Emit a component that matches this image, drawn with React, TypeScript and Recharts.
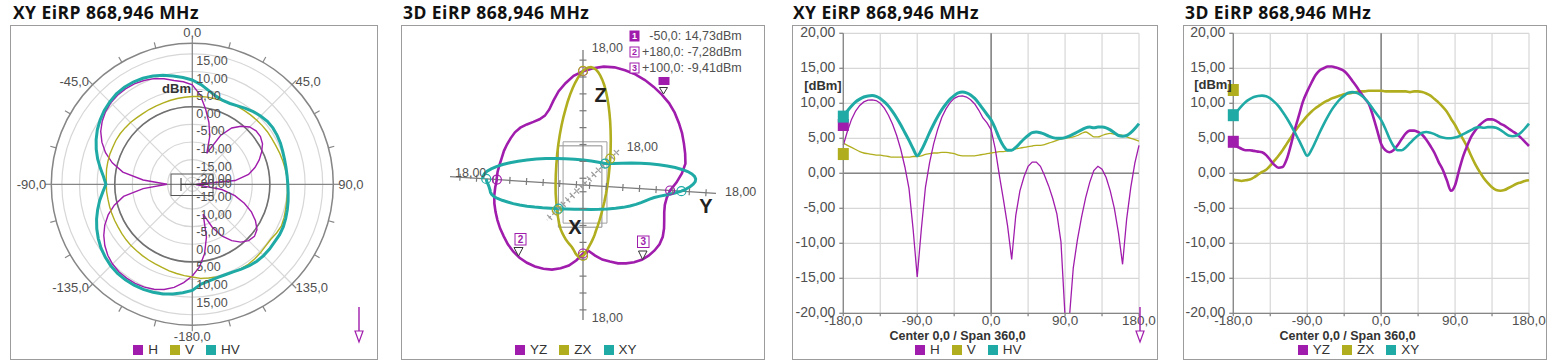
import React from "react";
import {
  CartesianGrid,
  ComposedChart,
  Line,
  LineChart,
  PolarAngleAxis,
  PolarGrid,
  PolarRadiusAxis,
  Radar,
  RadarChart,
  ReferenceArea,
  ReferenceDot,
  ReferenceLine,
  Scatter,
  XAxis,
  YAxis
} from "recharts";

// measurement angles, degrees
const angles = [
  -180, -175, -170, -165, -160, -155, -150, -145, -140, -135, -130, -125,
  -120, -115, -110, -105, -100, -95, -90, -85, -80, -75, -70, -65,
  -60, -55, -50, -45, -40, -35, -30, -25, -20, -15, -10, -5,
  0, 5, 10, 15, 20, 25, 30, 35, 40, 45, 50, 55,
  60, 65, 70, 75, 80, 85, 90, 95, 100, 105, 110, 115,
  120, 125, 130, 135, 140, 145, 150, 155, 160, 165, 170, 175, 180
];

// XY cut, dBm
const hValues = [
  4.0, 6.0, 7.7, 8.9, 9.7, 10.2, 10.45, 10.5, 10.4, 10.0, 9.3, 8.3,
  7.0, 5.4, 3.4, 0.9, -2.2, -8.0, -14.8, -8.0, -2.0, 1.5, 4.2, 6.3,
  8.0, 9.2, 10.1, 10.7, 11.0, 11.05, 10.9, 10.5, 9.9, 9.0, 7.9, 7.2,
  6.2, 3.5, -0.3, -3.8, -7.5, -12.3, -6.0, -2.5, -0.5, 1.0, 1.6, 1.6,
  1.0, -0.3, -1.8, -3.6, -5.8, -9.8, -20.5, -21.0, -13.5, -9.5, -6.3, -3.5,
  -1.3, 0.4, 1.0, 0.6, -0.6, -2.5, -5.0, -8.5, -13.0, -6.5, -2.0, 1.5, 4.0
];
const vValues = [
  4.3, 4.0, 3.7, 3.4, 3.1, 2.9, 2.8, 2.7, 2.6, 2.6, 2.5, 2.4,
  2.3, 2.3, 2.3, 2.3, 2.3, 2.4, 2.4, 2.5, 2.7, 2.8, 2.9, 2.9,
  3.0, 3.0, 2.9, 2.8, 2.6, 2.5, 2.5, 2.5, 2.5, 2.6, 2.7, 2.8,
  2.9, 3.0, 3.1, 3.1, 3.2, 3.3, 3.5, 3.6, 3.7, 3.8, 3.9, 4.0,
  4.0, 4.1, 4.3, 4.5, 4.7, 4.9, 5.0, 5.1, 5.2, 5.4, 5.7, 5.9,
  5.6, 5.2, 5.2, 5.4, 5.6, 5.7, 5.6, 5.5, 5.4, 5.2, 5.0, 4.8, 4.6
];
const hvValues = [
  8.1, 8.9, 9.6, 10.2, 10.6, 10.9, 11.05, 11.1, 11.0, 10.7, 10.2, 9.6,
  8.8, 7.9, 6.9, 5.8, 4.7, 3.5, 2.5, 3.3, 4.5, 5.8, 7.0, 8.1,
  9.1, 9.9, 10.6, 11.1, 11.5, 11.6, 11.5, 11.2, 10.7, 10.0, 9.2, 8.4,
  7.6, 6.4, 5.0, 3.9, 3.3, 3.3, 3.7, 4.3, 4.9, 5.4, 5.8, 5.9,
  5.8, 5.6, 5.3, 5.1, 5.0, 5.0, 5.1, 5.3, 5.6, 5.9, 6.2, 6.5,
  6.6, 6.5, 6.6, 6.6, 6.5, 6.2, 5.8, 5.4, 5.3, 5.4, 5.8, 6.4, 7.1
];

// 3D cuts, dBm
const yzValues = [
  4.0, 3.8, 3.5, 3.3, 3.3, 3.2, 3.1, 3.0, 2.6, 1.9, 1.2, 0.8,
  0.9, 2.0, 4.0, 6.3, 8.3, 10.3, 11.7, 12.9, 14.0, 14.7, 15.0, 15.25,
  15.25, 15.1, 14.9, 14.6, 14.0, 13.2, 12.4, 11.5, 10.7, 9.9, 8.2, 6.2,
  4.2, 3.3, 3.0, 3.3, 4.0, 4.9, 5.7, 6.1, 6.1, 5.9, 5.5, 4.8,
  3.9, 2.9, 1.6, 0.5, -1.0, -2.5, -1.7, 0.5, 2.5, 4.0, 5.3, 6.2,
  6.9, 7.4, 7.7, 7.7, 7.5, 7.1, 6.8, 6.4, 6.0, 5.6, 5.1, 4.5, 3.9
];
const zxValues = [
  -0.9, -1.0, -1.1, -1.0, -0.9, -0.6, -0.2, 0.2, 0.5, 1.1, 1.8, 2.5,
  3.3, 4.2, 5.1, 6.0, 6.8, 7.5, 8.2, 8.8, 9.3, 9.7, 10.1, 10.4,
  10.7, 10.9, 11.1, 11.3, 11.4, 11.5, 11.6, 11.7, 11.7, 11.8, 11.8, 11.8,
  11.8, 11.7, 11.7, 11.7, 11.7, 11.7, 11.7, 11.6, 11.7, 11.7, 11.6, 11.4,
  11.1, 10.6, 10.1, 9.5, 8.8, 7.8, 6.9, 5.8, 4.8, 3.7, 2.4, 1.2,
  0.2, -0.7, -1.4, -2.0, -2.4, -2.5, -2.4, -2.1, -1.8, -1.5, -1.3, -1.1, -1.0
];
// the XY cut of the 3D view is the HV trace of the XY view
const xyValues = hvValues;

// marker readouts at -180 (left edge squares)
const xyMarkers = [
  { key: "h", value: 6.9 },
  { key: "v", value: 2.75 },
  { key: "hv", value: 8.1 }
];
const d3Markers = [
  { key: "yz", value: 4.5 },
  { key: "zx", value: 11.9 },
  { key: "xy", value: 8.3 }
];

const markerTable = [
  { id: "1", text: "-50,0: 14,73dBm", filled: true },
  { id: "2", text: "+180,0: -7,28dBm", filled: false },
  { id: "3", text: "+100,0: -9,41dBm", filled: false }
];

const xTicks = [-180, -135, -90, -45, 0, 45, 90, 135, 180];
const yTicks = [-20, -15, -10, -5, 0, 5, 10, 15, 20];
const radiusTicks = [-20, -15, -10, -5, 0, 5, 10, 15];
const axisTickDb = [-20, -15, -10, -5, 0, 5, 10, 15];

const MAGENTA = "#a01cac";
const OLIVE = "#b0ae1e";
const TEAL = "#1faaa6";
const GRID = "#d7d7d7";
const DARK = "#868686";
const LABEL = "#505050";
const FONT = "'Liberation Sans', Arial, sans-serif";
const TITLE_FONT = "'Open Sans', 'Noto Sans', sans-serif";

const colorOf: Record<string, string> = {
  h: MAGENTA, v: OLIVE, hv: TEAL, yz: MAGENTA, zx: OLIVE, xy: TEAL
};

function fmt(value: number, digits: number) {
  return value.toFixed(digits).replace(".", ",");
}

// ---------- polar panel ----------
const POLAR_W = 368;
const POLAR_H = 335;
const POLAR_CX = 182.3;
const POLAR_CY = 159.3;
const POLAR_R = 141;
const R_MIN = -22;
const R_MAX = 18;
const zeroRing = (POLAR_R * (0 - R_MIN)) / (R_MAX - R_MIN);

const polarOrder = [...angles.slice(36, 72), ...angles.slice(0, 36)];
const polarRows = polarOrder.map((a) => {
  const i = angles.indexOf(a);
  return { angle: a, h: Math.max(hValues[i], R_MIN), v: vValues[i], hv: hvValues[i] };
});

function PolarAngleTick(props: any) {
  const { payload } = props;
  const a = Number(payload.value);
  if (a % 15 !== 0) return null;
  let ux: number;
  let uy: number;
  if (typeof payload.coordinate === "number") {
    const rad = (-payload.coordinate * Math.PI) / 180;
    ux = Math.cos(rad);
    uy = Math.sin(rad);
  } else {
    const dx = props.x - POLAR_CX;
    const dy = props.y - POLAR_CY;
    const d = Math.hypot(dx, dy) || 1;
    ux = dx / d;
    uy = dy / d;
  }
  const tick = (
    <line
      x1={POLAR_CX + ux * POLAR_R}
      y1={POLAR_CY + uy * POLAR_R}
      x2={POLAR_CX + ux * (POLAR_R + 6)}
      y2={POLAR_CY + uy * (POLAR_R + 6)}
      stroke={DARK}
      strokeWidth={1.2}
    />
  );
  if (a % 45 !== 0) return tick;
  const vertical = Math.abs(ux) < 0.2;
  const lr = vertical ? 152 : 146;
  const anchor = vertical ? "middle" : ux > 0 ? "start" : "end";
  return (
    <g>
      {tick}
      <text
        x={POLAR_CX + ux * lr}
        y={POLAR_CY + uy * lr}
        textAnchor={anchor}
        dominantBaseline="central"
        fill={LABEL}
        fontSize={13}
        fontFamily={FONT}
      >
        {fmt(a, 1)}
      </text>
    </g>
  );
}

function PolarRadiusTick(props: any) {
  const { x, y, payload } = props;
  const r = Math.hypot(x - POLAR_CX, y - POLAR_CY);
  const label = fmt(Number(payload.value), 2);
  const common = { x: POLAR_CX + 4, textAnchor: "start", dominantBaseline: "central", fill: LABEL, fontSize: 12.5, fontFamily: FONT } as any;
  return (
    <g>
      <text {...common} y={POLAR_CY - r + 7}>{label}</text>
      <text {...common} y={POLAR_CY + r - 12}>{label}</text>
    </g>
  );
}

function PolarPanel() {
  return (
    <div style={{ position: "absolute", left: 10, top: 25 }}>
      <RadarChart
        width={POLAR_W}
        height={POLAR_H}
        data={polarRows}
        cx={POLAR_CX}
        cy={POLAR_CY}
        outerRadius={POLAR_R}
        startAngle={90}
        endAngle={-270}
        margin={{ top: 0, right: 0, bottom: 0, left: 0 }}
      >
        <PolarGrid gridType="circle" stroke={GRID} strokeWidth={1.2} polarAngles={[45, 135, 225, 315]} />
        <PolarGrid gridType="circle" stroke={DARK} strokeWidth={1.3} polarAngles={[0, 90, 180, 270]} polarRadius={[]} />
        <PolarGrid gridType="circle" stroke="#707070" strokeWidth={1.6} radialLines={false} polarRadius={[zeroRing]} />
        <PolarAngleAxis
          dataKey="angle"
          tick={<PolarAngleTick />}
          tickLine={false}
          axisLine={{ stroke: DARK, strokeWidth: 1.5 }}
          axisLineType="circle"
        />
        <PolarRadiusAxis
          angle={90}
          type="number"
          domain={[R_MIN, R_MAX]}
          ticks={radiusTicks}
          tick={<PolarRadiusTick />}
          axisLine={false}
          tickLine={false}
          allowDataOverflow
        />
        <Radar dataKey="h" stroke={MAGENTA} strokeWidth={1.4} fill="none" fillOpacity={0} dot={false} isAnimationActive={false} />
        <Radar dataKey="v" stroke={OLIVE} strokeWidth={1.4} fill="none" fillOpacity={0} dot={false} isAnimationActive={false} />
        <Radar dataKey="hv" stroke={TEAL} strokeWidth={3} fill="none" fillOpacity={0} dot={false} isAnimationActive={false} />
      </RadarChart>
    </div>
  );
}

// ---------- 3D panel ----------
const D3_W = 364;
const D3_H = 335;
const D3_CX = 182;
const D3_CY = 160;
const D3_SCALE = 3.375;
const FLOOR_DB = -22;
const AXIS_DB = 18;
const Y_DIR = { x: 0.985, y: -0.062 };
const Z_DIR = { x: 0, y: 1 };
const X_DIR = { x: -0.267, y: -0.259 };
const d3XDomain = [-D3_CX / D3_SCALE, (D3_W - D3_CX) / D3_SCALE];
const d3YDomain = [-(D3_H - D3_CY) / D3_SCALE, D3_CY / D3_SCALE];

function project(plane: string, deg: number, db: number) {
  const r = db - FLOOR_DB;
  const t = (deg * Math.PI) / 180;
  const c = Math.cos(t);
  const s = Math.sin(t);
  if (plane === "yz") return { x: r * (c * Y_DIR.x - s * Z_DIR.x), y: r * (c * Y_DIR.y - s * Z_DIR.y) };
  if (plane === "zx") return { x: r * (c * Z_DIR.x + s * X_DIR.x), y: r * (c * Z_DIR.y + s * X_DIR.y) };
  return { x: r * (c * Y_DIR.x + s * X_DIR.x), y: r * (c * Y_DIR.y + s * X_DIR.y) };
}

function along(dir: { x: number; y: number }, r: number) {
  return { x: dir.x * r, y: dir.y * r };
}

const axisEnd = AXIS_DB - FLOOR_DB;
const yzPoints = angles.map((a, i) => project("yz", a, yzValues[i]));
const zxPoints = angles.map((a, i) => project("zx", a, zxValues[i]));
const xyPoints = angles.map((a, i) => project("xy", a, xyValues[i]));

function ticksOn(dir: { x: number; y: number }) {
  const out: { x: number; y: number }[] = [];
  axisTickDb.forEach((db) => {
    out.push(along(dir, db - FLOOR_DB));
    out.push(along(dir, -(db - FLOOR_DB)));
  });
  return out;
}

function crossings(plane: string, values: number[]) {
  return [-90, 0, 90, 180].map((a) => project(plane, a, values[angles.indexOf(a)]));
}

const tickShape = (dx: number, dy: number, color: string) => (p: any) => (
  <line x1={p.cx - dx * 3.5} y1={p.cy - dy * 3.5} x2={p.cx + dx * 3.5} y2={p.cy + dy * 3.5} stroke={color} strokeWidth={1.2} />
);
const ringShape = (color: string) => (p: any) => (
  <circle cx={p.cx} cy={p.cy} r={4.5} fill="none" stroke={color} strokeWidth={1.2} />
);

function ThreeDPanel() {
  return (
    <div style={{ position: "absolute", left: 400.7, top: 25 }}>
      <ComposedChart width={D3_W} height={D3_H} margin={{ top: 0, right: 0, bottom: 0, left: 0 }}>
        <XAxis type="number" dataKey="x" domain={d3XDomain} hide allowDataOverflow height={0} />
        <YAxis type="number" dataKey="y" domain={d3YDomain} hide allowDataOverflow width={0} />
        <ReferenceArea x1={-7.3} x2={5.6} y1={-12.5} y2={11.6} fill="none" stroke="#8c8c8c" strokeWidth={1} ifOverflow="visible" />
        <ReferenceArea x1={-5.9} x2={7.1} y1={-11.3} y2={12.8} fill="none" stroke="#a0a0a0" strokeWidth={1} ifOverflow="visible" />
        <ReferenceLine segment={[along(Z_DIR, -axisEnd), along(Z_DIR, axisEnd)]} stroke="#7a7a7a" strokeWidth={1.3} ifOverflow="visible" />
        <ReferenceLine segment={[along(Y_DIR, -axisEnd), along(Y_DIR, axisEnd)]} stroke="#7a7a7a" strokeWidth={1.3} ifOverflow="visible" />
        <ReferenceLine segment={[along(X_DIR, -axisEnd), along(X_DIR, axisEnd)]} stroke="#9a9a9a" strokeWidth={1.3} strokeDasharray="3 2" ifOverflow="visible" />
        <Scatter data={ticksOn(Z_DIR)} shape={tickShape(1, 0, "#7a7a7a")} isAnimationActive={false} />
        <Scatter data={ticksOn(Y_DIR)} shape={tickShape(-0.062, 0.998, "#7a7a7a")} isAnimationActive={false} />
        <Scatter data={ticksOn(X_DIR)} shape={tickShape(0.7, 0.71, "#9a9a9a")} isAnimationActive={false} />
        <Line data={yzPoints} dataKey="y" type="linear" stroke={MAGENTA} strokeWidth={2.6} dot={false} isAnimationActive={false} />
        <Line data={zxPoints} dataKey="y" type="linear" stroke={OLIVE} strokeWidth={2.6} dot={false} isAnimationActive={false} />
        <Line data={xyPoints} dataKey="y" type="linear" stroke={TEAL} strokeWidth={3} dot={false} isAnimationActive={false} />
        <Scatter data={crossings("yz", yzValues)} shape={ringShape(MAGENTA)} isAnimationActive={false} />
        <Scatter data={crossings("zx", zxValues)} shape={ringShape(OLIVE)} isAnimationActive={false} />
        <Scatter data={crossings("xy", xyValues)} shape={ringShape(TEAL)} isAnimationActive={false} />
      </ComposedChart>
    </div>
  );
}

// ---------- cartesian panels ----------
const rows = angles.map((a, i) => ({
  angle: a,
  h: hValues[i],
  v: vValues[i],
  hv: hvValues[i],
  yz: yzValues[i],
  zx: zxValues[i],
  xy: xyValues[i]
}));

const squareShape = (color: string) => (p: any) => (
  <rect x={p.cx - 5.5} y={p.cy - 6} width={11} height={12} fill={color} />
);

function XTick(props: any) {
  const { x, y, payload } = props;
  const v = Number(payload.value);
  if (v % 90 !== 0) return null;
  return (
    <text x={x} y={y + 4.5} textAnchor="middle" dominantBaseline="central" fill={LABEL} fontSize={13.5} fontFamily={FONT}>
      {fmt(v, 1)}
    </text>
  );
}

function YTick(props: any) {
  const { x, y, payload } = props;
  return (
    <text x={x} y={y - 1.5} textAnchor="end" dominantBaseline="central" fill={LABEL} fontSize={14} fontFamily={FONT}>
      {fmt(Number(payload.value), 2)}
    </text>
  );
}

function CartesianPanel(props: {
  left: number;
  width: number;
  marginLeft: number;
  marginRight: number;
  series: { key: string; width: number; type: "linear" | "monotone" }[];
  markers: { key: string; value: number }[];
}) {
  return (
    <div style={{ position: "absolute", left: props.left, top: 20 }}>
      <LineChart
        width={props.width}
        height={340}
        data={rows}
        margin={{ top: 13.3, right: props.marginRight, left: props.marginLeft, bottom: 26.7 }}
      >
        <CartesianGrid stroke={GRID} strokeWidth={1.2} />
        <XAxis
          dataKey="angle"
          type="number"
          domain={[-180, 180]}
          ticks={xTicks}
          interval={0}
          height={20}
          tickSize={3}
          tickMargin={0}
          tick={<XTick />}
          stroke={DARK}
          strokeWidth={1.3}
        />
        <YAxis
          type="number"
          domain={[-20, 20]}
          ticks={yTicks}
          interval={0}
          allowDataOverflow
          width={50}
          tickSize={4}
          tickMargin={4}
          tick={<YTick />}
          stroke={DARK}
          strokeWidth={1.3}
        />
        <ReferenceLine x={0} stroke={DARK} strokeWidth={1.6} />
        <ReferenceLine y={0} stroke={DARK} strokeWidth={1.6} />
        {props.series.map((s) => (
          <Line
            key={s.key}
            dataKey={s.key}
            type={s.type}
            stroke={colorOf[s.key]}
            strokeWidth={s.width}
            dot={false}
            isAnimationActive={false}
          />
        ))}
        {props.markers.map((m) => (
          <ReferenceDot key={m.key} x={-180} y={m.value} r={6} shape={squareShape(colorOf[m.key])} ifOverflow="visible" />
        ))}
      </LineChart>
    </div>
  );
}

// ---------- page furniture ----------
function Frame({ left, width }: { left: number; width: number }) {
  return (
    <div
      style={{
        position: "absolute",
        left,
        top: 25,
        width,
        height: 335,
        border: "1.5px solid #9c9c9c",
        boxSizing: "border-box"
      }}
    />
  );
}

function Title({ left, text }: { left: number; text: string }) {
  return (
    <svg width={240} height={24} style={{ position: "absolute", left, top: 0, overflow: "visible" }}>
      <text
        x={0}
        y={18.8}
        fontFamily={TITLE_FONT}
        fontWeight={700}
        fontSize={17.5}
        letterSpacing={0.45}
        fill="#111"
      >
        {text}
      </text>
    </svg>
  );
}

function LegendRow({ left, items }: { left: number; items: string[] }) {
  return (
    <div
      style={{
        position: "absolute",
        left,
        top: 343,
        display: "flex",
        alignItems: "center",
        fontFamily: FONT,
        fontSize: 13.5,
        lineHeight: "14px",
        color: "#333"
      }}
    >
      {items.map((k) => (
        <div key={k} style={{ display: "flex", alignItems: "center", marginRight: 12 }}>
          <span style={{ display: "inline-block", width: 10, height: 10, background: colorOf[k.toLowerCase()], marginRight: 5 }} />
          {k}
        </div>
      ))}
    </div>
  );
}

function Arrow({ x }: { x: number }) {
  return (
    <g>
      <line x1={x} y1={307} x2={x} y2={333} stroke={MAGENTA} strokeWidth={1.4} />
      <polygon points={`${x - 4},${331} ${x + 4},${331} ${x},${342}`} fill="#fff" stroke={MAGENTA} strokeWidth={1.2} />
    </g>
  );
}

function Overlay() {
  const small = { fontFamily: FONT, fontSize: 12.5, fill: LABEL } as any;
  const bold = { fontFamily: FONT, fontSize: 13, fontWeight: 700, fill: "#333" } as any;
  const big = { fontFamily: FONT, fontSize: 20, fontWeight: 700, fill: "#222", textAnchor: "middle", dominantBaseline: "central" } as any;
  return (
    <svg width={1557} height={364} style={{ position: "absolute", left: 0, top: 0, pointerEvents: "none" }}>
      {/* polar panel furniture */}
      <text {...bold} x={191} y={88} textAnchor="end" dominantBaseline="central">dBm</text>
      <rect x={171} y={174} width={42} height={21.5} fill="none" stroke="#555" strokeWidth={1} />
      <line x1={181} y1={178} x2={181} y2={191} stroke="#333" strokeWidth={1} />
      <line x1={181} y1={184.3} x2={208} y2={184.3} stroke="#333" strokeWidth={1} />
      <Arrow x={359} />

      {/* 3D panel labels */}
      <text {...small} x={591.7} y={48} dominantBaseline="central">18,00</text>
      <text {...small} x={591.7} y={318} dominantBaseline="central">18,00</text>
      <text {...small} x={725} y={191.7} dominantBaseline="central">18,00</text>
      <text {...small} x={455} y={173} dominantBaseline="central">18,00</text>
      <text {...small} x={626.7} y={146.7} dominantBaseline="central">18,00</text>
      <text {...big} x={600.5} y={95}>Z</text>
      <text {...big} x={705.8} y={205.5}>Y</text>
      <text {...big} x={575} y={226.7}>X</text>
      {markerTable.map((m, i) => {
        const y = 36 + i * 16;
        return (
          <g key={m.id}>
            <rect x={630} y={y - 5} width={9} height={10} fill={m.filled ? MAGENTA : "#fff"} stroke={MAGENTA} strokeWidth={1} />
            <text x={634.5} y={y} textAnchor="middle" dominantBaseline="central" fontFamily={FONT} fontSize={9} fontWeight={700} fill={m.filled ? "#fff" : MAGENTA}>
              {m.id}
            </text>
            <text {...small} x={741.7} y={y} textAnchor="end" dominantBaseline="central">{m.text}</text>
          </g>
        );
      })}
      <rect x={658.5} y={77} width={11} height={8} fill={MAGENTA} />
      <polygon points="659.5,87.5 667.5,87.5 663.5,94" fill="#fff" stroke="#333" strokeWidth={1} />
      <rect x={515} y={233.5} width={11} height={11.5} fill="#fff" stroke={MAGENTA} strokeWidth={1} />
      <text x={520.5} y={239.3} textAnchor="middle" dominantBaseline="central" fontFamily={FONT} fontSize={10} fontWeight={700} fill={MAGENTA}>2</text>
      <polygon points="514,247.5 523,247.5 518.5,256" fill="#fff" stroke="#333" strokeWidth={1} />
      <rect x={637.5} y={236} width={11.5} height={11.5} fill="#fff" stroke={MAGENTA} strokeWidth={1} />
      <text x={643.2} y={241.8} textAnchor="middle" dominantBaseline="central" fontFamily={FONT} fontSize={10} fontWeight={700} fill={MAGENTA}>3</text>
      <polygon points="638.5,251 647,251 642.7,259.5" fill="#fff" stroke="#333" strokeWidth={1} />

      {/* cartesian panel captions */}
      <text {...bold} x={841.7} y={85} textAnchor="end" dominantBaseline="central">[dBm]</text>
      <text {...bold} x={1231.7} y={84} textAnchor="end" dominantBaseline="central">[dBm]</text>
      <text {...bold} fontSize={12.5} x={957.5} y={335.5} textAnchor="middle" dominantBaseline="central">Center 0,0 / Span 360,0</text>
      <text {...bold} fontSize={12.5} x={1347.5} y={335.5} textAnchor="middle" dominantBaseline="central">Center 0,0 / Span 360,0</text>
      <Arrow x={1140} />
    </svg>
  );
}

export default function App() {
  return (
    <div style={{ position: "absolute", left: 0, top: 0, width: 1557, height: 364, background: "#fff", overflow: "hidden" }}>
      <Frame left={10} width={368} />
      <Frame left={400.7} width={364.5} />
      <Frame left={791.7} width={366.6} />
      <Frame left={1183.3} width={363.4} />
      <Title left={12.7} text="XY EiRP 868,946 MHz" />
      <Title left={402.7} text="3D EiRP 868,946 MHz" />
      <Title left={792.7} text="XY EiRP 868,946 MHz" />
      <Title left={1185} text="3D EiRP 868,946 MHz" />
      <PolarPanel />
      <ThreeDPanel />
      <CartesianPanel
        left={792}
        width={366}
        marginLeft={1.3}
        marginRight={19}
        series={[
          { key: "v", width: 1.3, type: "monotone" },
          { key: "h", width: 1.3, type: "linear" },
          { key: "hv", width: 3, type: "monotone" }
        ]}
        markers={xyMarkers}
      />
      <CartesianPanel
        left={1183}
        width={364}
        marginLeft={0.3}
        marginRight={18}
        series={[
          { key: "zx", width: 2.6, type: "monotone" },
          { key: "yz", width: 2.6, type: "monotone" },
          { key: "xy", width: 2.6, type: "monotone" }
        ]}
        markers={d3Markers}
      />
      <LegendRow left={133.3} items={["H", "V", "HV"]} />
      <LegendRow left={515} items={["YZ", "ZX", "XY"]} />
      <LegendRow left={915} items={["H", "V", "HV"]} />
      <LegendRow left={1297.7} items={["YZ", "ZX", "XY"]} />
      <Overlay />
    </div>
  );
}
